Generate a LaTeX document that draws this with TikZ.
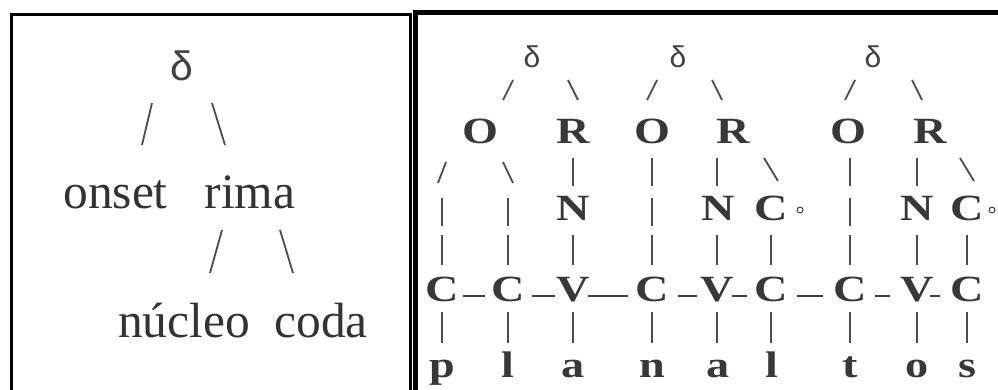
\documentclass[tikz,border=0pt]{standalone}
\usepackage{fontspec}
\setmainfont{Liberation Serif}
\newfontfamily\deltafont{Liberation Sans}
\newfontfamily\segfont[FakeStretch=1.25]{Liberation Serif Bold}
\usetikzlibrary{calc}
\newcommand{\mybar}[3]{\draw[stroke] (#1 |- 0,#2) -- (#1 |- 0,#3);}
% #1 node, #2 dx (positive: /, negative: \), #3 top y, #4 bottom y
\newcommand{\myslash}[4]{\draw[stroke] ($(#1 |- 0,#4)+(-#2,0)$) -- ($(#1 |- 0,#3)+(#2,0)$);}
\begin{document}
\begin{tikzpicture}[x=1pt,y=-1pt,
  big/.style={text=black!80, font=\fontsize{49.5}{50}\selectfont, inner sep=0pt, anchor=base},
  dbig/.style={text=black!75, font=\deltafont\fontsize{41}{42}\selectfont, inner sep=0pt, anchor=base},
  seg/.style={text=black!78, font=\segfont\fontsize{37}{38}\selectfont, inner sep=0pt, anchor=base},
  dsmall/.style={text=black!75, font=\deltafont\fontsize{30}{32}\selectfont, inner sep=0pt, anchor=base},
  stroke/.style={draw=black!70, line width=1.8pt},
  link/.style={draw=black!75, line width=2pt},
  ring/.style={circle, draw=black!80, line width=0.9pt, inner sep=0pt, minimum size=6pt}
]
\useasboundingbox (0,0) rectangle (998,389);
\fill[white] (0,0) rectangle (998,389);
% frames
\draw[line width=3pt] (11.5,14.5) rectangle (410.5,410);
\draw[line width=5pt] (415,12) rectangle (1010,410);

% ---- left panel ----
\node[dbig] (d0) at (182,80) {δ};
\node[big] (onset) at (115.5,208) {onset};
\node[big] (rima) at (250,208) {rima};
\node[big] (nucleo) at (184,337) {núcleo};
\node[big] (coda) at (321,337) {coda};
\draw[stroke] (142,145) -- (152,103);
\draw[stroke] (212,103) -- (225,145);
\draw[stroke] (210,273) -- (222,230);
\draw[stroke] (280,230) -- (293,273);

% ---- right panel ----
% row 1: syllables
\node[dsmall] (d1) at (532,67) {δ};
\node[dsmall] (d2) at (678,67) {δ};
\node[dsmall] (d3) at (873,67) {δ};
% row 3: onset / rhyme
\node[seg] (o1) at (480,143) {O};
\node[seg] (r1) at (573,143) {R};
\node[seg] (o2) at (652,143) {O};
\node[seg] (r2) at (733,143) {R};
\node[seg] (o3) at (848,143) {O};
\node[seg] (r3) at (930,143) {R};
% row 7: skeleton
\node[seg] (k1) at (442,301) {C};
\node[seg] (k2) at (508,301) {C};
\node[seg] (k3) at (573,301) {V};
\node[seg] (k4) at (652,301) {C};
\node[seg] (k5) at (717,301) {V};
\node[seg] (k6) at (771,301) {C};
\node[seg] (k7) at (850,301) {C};
\node[seg] (k8) at (917,301) {V};
\node[seg] (k9) at (967,301) {C};
% row 5: nucleus / coda
\node[seg] (n1) at (573,220) {N};
\node[seg] (n2) at (718,220) {N};
\node[seg] (c1) at (771,220) {C};
\node[seg] (n3) at (917,220) {N};
\node[seg] (c2) at (967,220) {C};
\node[ring] (e1) at (800,210) {};
\node[ring] (e2) at (992,210) {};
% row 9: segments
\node[seg] (s1) at (442,377) {p};
\node[seg] (s2) at (508,377) {l};
\node[seg] (s3) at (573,377) {a};
\node[seg] (s4) at (652,377) {n};
\node[seg] (s5) at (718,377) {a};
\node[seg] (s6) at (772,377) {l};
\node[seg] (s7) at (850,377) {t};
\node[seg] (s8) at (917,377) {o};
\node[seg] (s9) at (967,377) {s};

% row 2: slashes under syllables
\myslash{k2}{5}{80}{100}
\myslash{k3}{-5}{80}{100}
\myslash{k4}{5}{80}{100}
\myslash{k5}{-5}{80}{100}
\myslash{k7}{5}{80}{100}
\myslash{k8}{-5}{80}{100}
% row 4
\myslash{k1}{4}{162}{183}
\myslash{k2}{-5}{162}{183}
\mybar{k3}{158}{186}
\mybar{k4}{158}{186}
\mybar{k5}{158}{186}
\myslash{k6}{-7}{158}{181}
\mybar{k7}{158}{186}
\mybar{k8}{158}{186}
\myslash{k9}{-7}{158}{181}
% row 5 bars
\mybar{k1}{198}{226}
\mybar{k2}{198}{226}
\mybar{k4}{198}{226}
\mybar{k7}{198}{226}
% row 6 bars
\foreach \k in {k1,k2,k3,k4,k5,k6,k7,k8,k9} {\mybar{\k}{235}{265}}
% row 8 bars
\foreach \k in {k1,k2,k3,k4,k5,k6,k7,k8,k9} {\mybar{\k}{312}{343}}
% skeleton links
\draw[link] (463,296) -- (485,296);
\draw[link] (532,296) -- (555,296);
\draw[link] (588,296) -- (628,296);
\draw[link] (678,296) -- (697,296);
\draw[link] (732,296) -- (747,296);
\draw[link] (797,296) -- (823,296);
\draw[link] (875,296) -- (890,296);
\draw[link] (930,296) -- (940,296);
\end{tikzpicture}
\end{document}
